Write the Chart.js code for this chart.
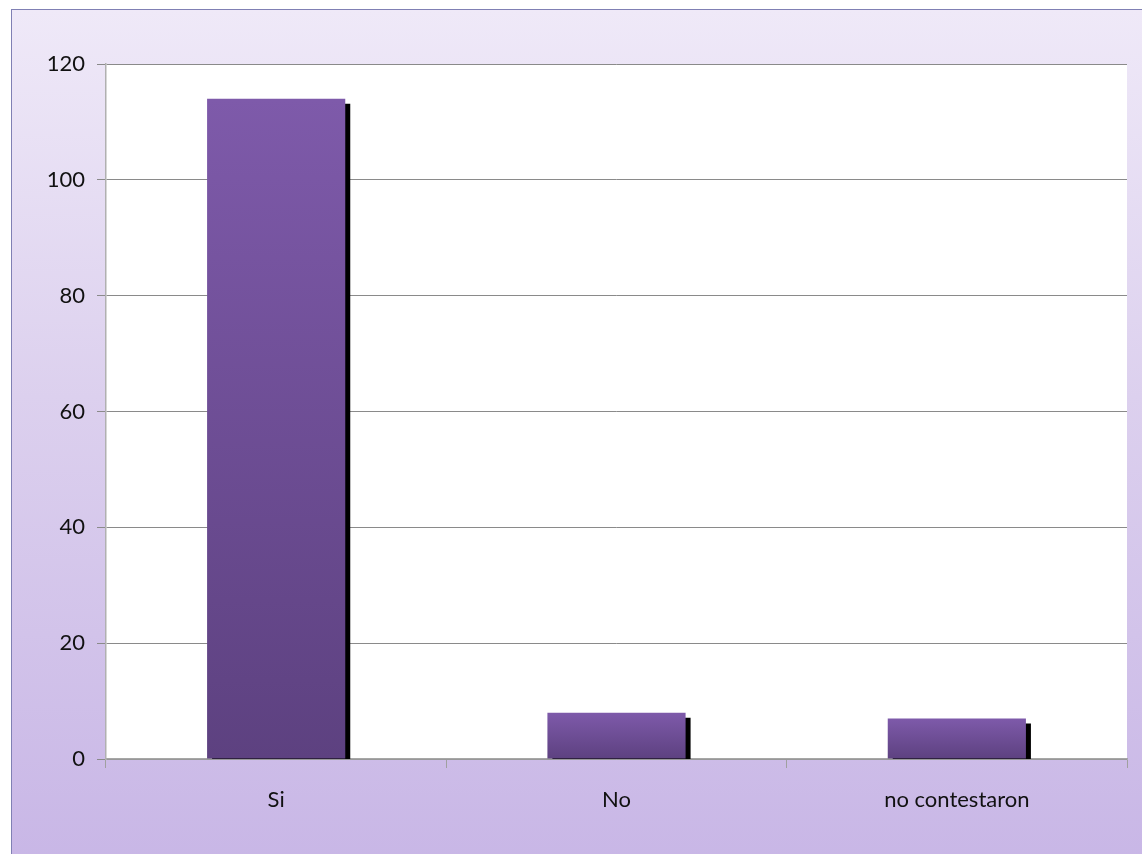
<!DOCTYPE html>
<html lang="es">
<head>
  <meta charset="UTF-8" />
  <title>Respuestas</title>
  <script src="https://cdn.jsdelivr.net/npm/chart.js"></script>
  <style>
    html, body { margin: 0; padding: 0; background: #ffffff; overflow: hidden; }
    .frame {
      position: absolute;
      left: 11px; top: 9px;
      width: 1140px; height: 860px;
      border-left: 1.5px solid #8080b4;
      border-top: 1.5px solid #8080b4;
      background: linear-gradient(to bottom, #efe9f8 0%, #dcd0ee 45%, #c8b6e6 100%);
    }
    .frame canvas { display: block; }
  </style>
</head>
<body>
<div class="frame">
  <canvas id="chart" width="1129" height="843"></canvas>
</div>

<script>
  // data
  const categories = ['Si', 'No', 'no contestaron'];
  const respuestas = [114, 8, 7];
  const yTicks = [0, 20, 40, 60, 80, 100, 120];

  // white plot area behind bars
  const plotBg = {
    id: 'plotBg',
    beforeDraw(chart) {
      const { ctx, chartArea: a } = chart;
      ctx.save();
      ctx.fillStyle = '#ffffff';
      ctx.fillRect(a.left, a.top, a.right - a.left, a.bottom - a.top);
      ctx.restore();
    }
  };

  // hard black shadow to the lower right of each bar
  const barShadow = {
    id: 'barShadow',
    beforeDatasetsDraw(chart) {
      const ctx = chart.ctx;
      ctx.save();
      ctx.shadowColor = '#000000';
      ctx.shadowOffsetX = 5;
      ctx.shadowOffsetY = 5;
      ctx.shadowBlur = 0;
    },
    afterDatasetsDraw(chart) {
      chart.ctx.restore();
    }
  };

  function barFill(context) {
    const chart = context.chart;
    const y = chart.scales.y;
    if (!y || !chart.chartArea) return '#7a58a5';
    const v = context.raw;
    const top = y.getPixelForValue(v);
    const bottom = y.getPixelForValue(0);
    const g = chart.ctx.createLinearGradient(0, top, 0, bottom);
    g.addColorStop(0, '#7e5aaa');
    g.addColorStop(1, '#5d4180');
    return g;
  }

  new Chart(document.getElementById('chart'), {
    type: 'bar',
    data: {
      labels: categories,
      datasets: [{
        data: respuestas,
        backgroundColor: barFill,
        borderWidth: 0,
        categoryPercentage: 1,
        barPercentage: 0.406
      }]
    },
    options: {
      responsive: false,
      animation: false,
      events: [],
      layout: { padding: { left: 0, top: 54, right: 14, bottom: 0 } },
      plugins: { legend: { display: false }, tooltip: { enabled: false } },
      scales: {
        x: {
          grid: {
            offset: true,
            drawOnChartArea: false,
            drawTicks: true,
            tickLength: 9,
            color: '#a0a0a0'
          },
          border: { color: '#a6a6a6', width: 1.5 },
          ticks: {
            color: '#111111',
            padding: 19,
            font: { family: 'Lato', size: 22 }
          },
          afterFit(scale) { scale.height = 94; }
        },
        y: {
          min: 0,
          max: 120,
          afterBuildTicks(scale) { scale.ticks = yTicks.map(v => ({ value: v })); },
          grid: {
            color: '#8a8a8a',
            lineWidth: 1,
            drawTicks: true,
            tickLength: 9
          },
          border: { color: '#b0b0b0', width: 1.5 },
          ticks: {
            color: '#111111',
            padding: 12,
            font: { family: 'Lato', size: 22 }
          },
          afterFit(scale) { scale.width = 94; }
        }
      }
    },
    plugins: [plotBg, barShadow]
  });
</script>
</body>
</html>
